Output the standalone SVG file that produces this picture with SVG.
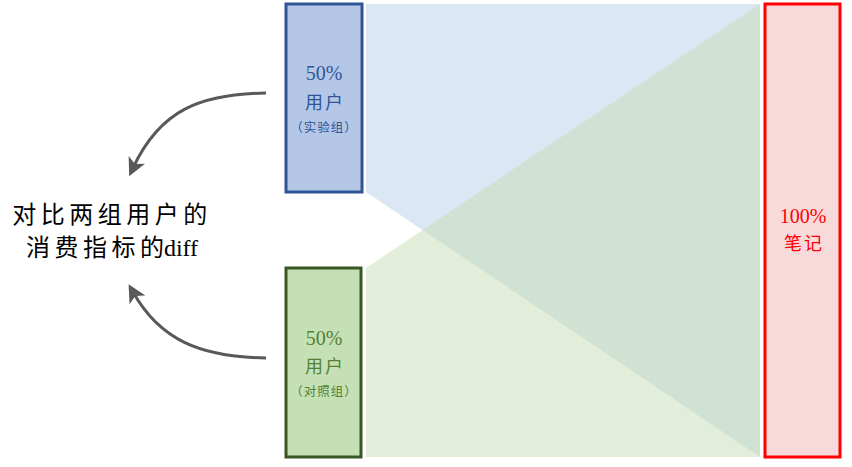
<svg xmlns="http://www.w3.org/2000/svg" width="852" height="467" viewBox="0 0 852 467">
<style>
.t{font-family:"Liberation Serif","Noto Sans CJK SC",serif;text-anchor:middle}
.cj{font-size:18px;letter-spacing:2px}
.sm{font-size:12.5px;letter-spacing:1px}
.num{font-size:20px}
.conn{fill:none;stroke:#595959;stroke-width:3}
</style>
<defs>
<marker id="ah" viewBox="0 0 12 12" refX="6" refY="6" markerWidth="6" markerHeight="6" orient="auto" markerUnits="strokeWidth">
<path d="M0,0 L12,6 L0,12 L3,6 Z" fill="#595959"/>
</marker>
</defs>
<g id="bands">
<polygon points="366,4 760,4 760,457 366,192" fill="#dbe7f4"/>
<polygon points="366,268 760,4 760,457 366,457" fill="#c5ddb3" fill-opacity="0.5"/>
</g>
<g id="node-exp">
<rect x="286" y="4" width="76" height="188" fill="#b4c7e7" stroke="#2f5597" stroke-width="3"/>
<text class="t num" x="324" y="80" fill="#2f5597">50%</text>
<text class="t cj" x="325" y="109" fill="#2f5597">用户</text>
<text class="t sm" x="324" y="132" fill="#2f5597">（实验组）</text>
</g>
<g id="node-ctrl">
<rect x="286" y="268" width="75" height="189" fill="#c5e0b4" stroke="#385723" stroke-width="3"/>
<text class="t num" x="324" y="345" fill="#548235">50%</text>
<text class="t cj" x="325" y="373" fill="#548235">用户</text>
<text class="t sm" x="324" y="396" fill="#548235">（对照组）</text>
</g>
<g id="node-notes">
<rect x="765" y="4" width="75" height="453" fill="#f8dadb" stroke="#ff0000" stroke-width="3"/>
<text class="t num" x="803" y="223" fill="#ff0000">100%</text>
<text class="t cj" x="804" y="250" fill="#ff0000">笔记</text>
</g>
<g id="node-diff">
<text class="t" x="112" y="223" font-size="24" letter-spacing="4.5" fill="#000">对比两组用户的</text>
<text class="t" x="112" y="256" font-size="24" fill="#000"><tspan letter-spacing="4.5">消费指标</tspan><tspan>的diff</tspan></text>
</g>
<g id="connectors">
<path class="conn" d="M266,93 C200,94 160,110 133,168" marker-end="url(#ah)"/>
<path class="conn" d="M266,358 C200,357 160,340 133,292" marker-end="url(#ah)"/>
</g>
</svg>
